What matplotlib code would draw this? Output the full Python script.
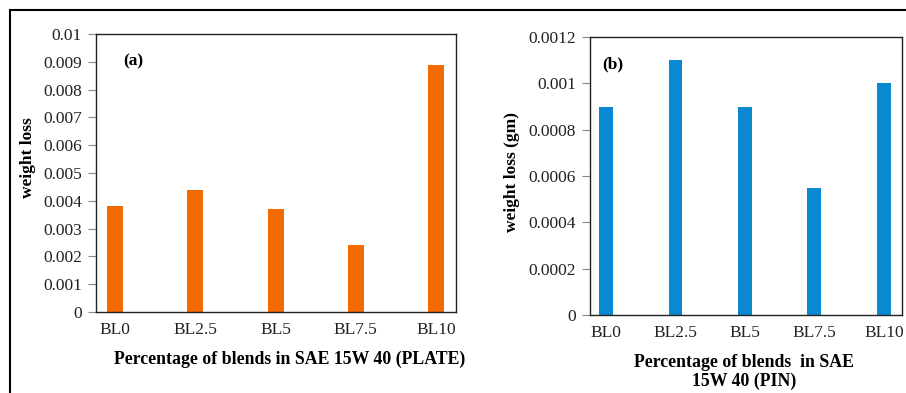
import matplotlib
matplotlib.use("Agg")
from matplotlib import pyplot as plt
from matplotlib.lines import Line2D

# Data
blends = ["BL0", "BL2.5", "BL5", "BL7.5", "BL10"]
plate_loss = [0.0038, 0.0044, 0.0037, 0.0024, 0.0089]
pin_loss = [0.0009, 0.0011, 0.0009, 0.00055, 0.001]
plate_ticks = [0, 0.001, 0.002, 0.003, 0.004, 0.005, 0.006, 0.007, 0.008, 0.009, 0.01]
plate_tick_labels = ["0", "0.001", "0.002", "0.003", "0.004", "0.005", "0.006",
                     "0.007", "0.008", "0.009", "0.01"]
pin_ticks = [0, 0.0002, 0.0004, 0.0006, 0.0008, 0.001, 0.0012]
pin_tick_labels = ["0", "0.0002", "0.0004", "0.0006", "0.0008", "0.001", "0.0012"]

plt.rcParams['font.family'] = ['Liberation Serif', 'DejaVu Serif']

W, H = 906, 393
fig = plt.figure(figsize=(W / 100, H / 100), dpi=100)


def px_axes(x0, y0, x1, y1):
    # pixel box (top-left origin) -> figure fraction
    return fig.add_axes([x0 / W, 1 - y1 / H, (x1 - x0) / W, (y1 - y0) / H])


# Outer frame (top and left only)
fig.add_artist(Line2D([10 / W, 1], [1 - 10 / H, 1 - 10 / H], color="black", lw=1.5))
fig.add_artist(Line2D([10 / W, 10 / W], [0, 1 - 10 / H], color="black", lw=1.5))


def style_axes(ax, ticks, labels, xlim):
    ax.set_xlim(*xlim)
    ax.set_ylim(ticks[0], ticks[-1])
    ax.set_yticks(ticks)
    ax.set_yticklabels(labels, fontsize=12.5, color="#222222")
    ax.set_xticks(range(len(blends)))
    ax.set_xticklabels(blends, fontsize=12.5, color="#222222")
    ax.tick_params(axis='x', length=0, pad=7)
    ax.tick_params(axis='y', length=6, width=0.8, color="#888888", pad=4)
    for s in ax.spines.values():
        s.set_color("#222222")
        s.set_linewidth(1.0)


# (a) plate
ax1 = px_axes(96, 34, 456, 312)
ax1.bar(range(len(blends)), plate_loss, width=0.2, color="#F26A00")
style_axes(ax1, plate_ticks, plate_tick_labels, (-0.24, 4.25))
ax1.text(0.075, 0.9, "(a)", transform=ax1.transAxes, fontsize=12.5, fontweight="bold",
         va="center", ha="left")
fig.text(28 / W, 1 - 158 / H, "weight loss", rotation=90, fontsize=12.5, fontweight="bold",
         ha="center", va="center")
fig.text(290 / W, 1 - 359 / H, "Percentage of blends in SAE 15W 40 (PLATE)", fontsize=12.8,
         fontweight="bold", ha="center", va="center")

# (b) pin
ax2 = px_axes(590, 37, 902, 315)
ax2.bar(range(len(blends)), pin_loss, width=0.2, color="#0A88D2")
style_axes(ax2, pin_ticks, pin_tick_labels, (-0.23, 4.26))
ax2.text(0.04, 0.9, "(b)", transform=ax2.transAxes, fontsize=12.5, fontweight="bold",
         va="center", ha="left")
fig.text(512 / W, 1 - 172 / H, "weight loss (gm)", rotation=90, fontsize=12.5,
         fontweight="bold", ha="center", va="center")
fig.text(744 / W, 1 - 372 / H, "Percentage of blends  in SAE\n15W 40 (PIN)", fontsize=12.8,
         fontweight="bold", ha="center", va="center", linespacing=1.15)

fig.savefig("out.png", dpi=100)
